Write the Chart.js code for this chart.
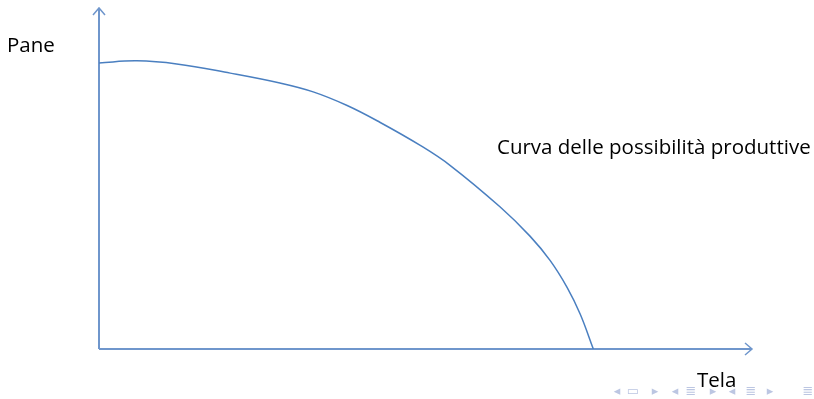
<!DOCTYPE html>
<html>
<head>
<meta charset="utf-8">
<script src="https://cdn.jsdelivr.net/npm/chart.js@4"></script>
<style>
  html, body { margin: 0; padding: 0; background: #fff; }
</style>
</head>
<body>
<canvas id="ppf" width="814" height="399"></canvas>
<script>
// Curva delle possibilità produttive (Tela sull'asse x, Pane sull'asse y)
const tela = [0, 5.8, 11.9, 20.1, 27.7, 32.8, 38.0, 43.0, 49.2, 53.8, 61.4, 66.0, 69.1, 71.7, 73.7, 75.7];
const pane = [83.9, 84.5, 83.6, 80.9, 78.0, 75.4, 71.4, 66.5, 59.7, 53.8, 41.7, 33.1, 25.9, 18.0, 10.2, 0];

const points = tela.map(function(x, i) { return { x: x, y: pane[i] }; });

const axisColor = "#6f96cc";

// simboli di navigazione beamer (in basso a destra)
const navSymbols = [
  ["◂", 617], ["▭", 633], ["▸", 655],
  ["◂", 675], ["≣", 691], ["▸", 713],
  ["◂", 732], ["≣", 751], ["▸", 770],
  ["≣", 808]
];

// assi con frecce ed etichette
const axesPlugin = {
  id: "axesPlugin",
  beforeDatasetsDraw: function(chart) {
    const ctx = chart.ctx;
    const a = chart.chartArea;
    ctx.save();
    ctx.strokeStyle = axisColor;
    ctx.lineWidth = 2;
    ctx.beginPath();
    ctx.moveTo(a.left, a.bottom);
    ctx.lineTo(a.left, a.top);
    ctx.moveTo(a.left, a.bottom);
    ctx.lineTo(a.right, a.bottom);
    ctx.stroke();
    ctx.lineWidth = 1.5;
    ctx.beginPath();
    ctx.moveTo(a.left - 6, a.top + 7);
    ctx.lineTo(a.left, a.top);
    ctx.lineTo(a.left + 6, a.top + 7);
    ctx.moveTo(a.right - 7, a.bottom - 6);
    ctx.lineTo(a.right, a.bottom);
    ctx.lineTo(a.right - 7, a.bottom + 6);
    ctx.stroke();

    ctx.fillStyle = "#000";
    ctx.font = "20.5px 'Open Sans'";
    ctx.textBaseline = "middle";
    ctx.fillText("Pane", 7, 46);
    ctx.fillText("Curva delle possibilità produttive", 497, 148);
    ctx.fillText("Tela", 697, 381);

    ctx.fillStyle = "#bcc6e2";
    ctx.font = "13px 'DejaVu Sans'";
    ctx.textAlign = "center";
    navSymbols.forEach(function(s) {
      ctx.fillText(s[0], s[1], 392);
    });
    ctx.restore();
  }
};

const ctx = document.getElementById("ppf").getContext("2d");
new Chart(ctx, {
  type: "scatter",
  data: {
    datasets: [{
      label: "Curva delle possibilità produttive",
      data: points,
      showLine: true,
      borderColor: "#4a7fc0",
      borderWidth: 1.5,
      pointRadius: 0,
      tension: 0.4,
      fill: false
    }]
  },
  options: {
    responsive: false,
    animation: false,
    layout: {
      padding: { left: 99, right: 62, top: 8, bottom: 50 }
    },
    scales: {
      x: { display: false, min: 0, max: 100 },
      y: { display: false, min: 0, max: 100 }
    },
    plugins: {
      legend: { display: false },
      tooltip: { enabled: false }
    }
  },
  plugins: [axesPlugin]
});
</script>
</body>
</html>
